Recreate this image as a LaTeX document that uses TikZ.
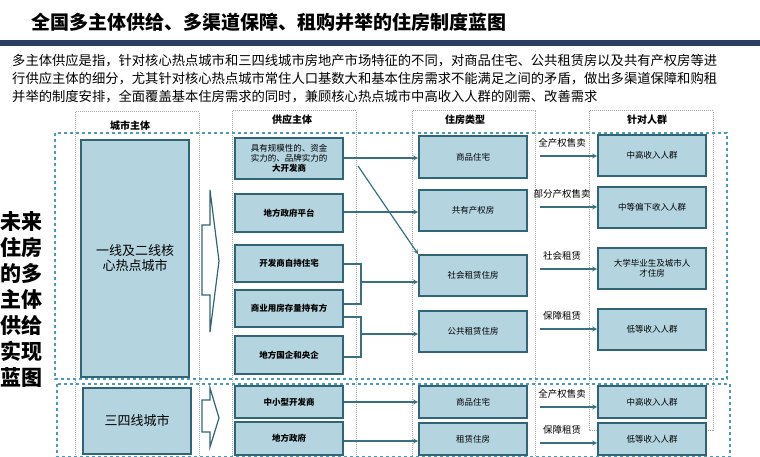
\documentclass[tikz,border=0pt]{standalone}
\usepackage{fontspec}
\setmainfont{Noto Sans CJK SC}
\usetikzlibrary{positioning}
\definecolor{boxfill}{HTML}{B4D5E0}
\definecolor{boxline}{HTML}{2F6577}
\definecolor{arrowc}{HTML}{3A6F80}
\definecolor{dashc}{HTML}{4A9AB8}
\definecolor{barc}{HTML}{2A3F5F}

\begin{document}
\begin{tikzpicture}[
  x=1pt, y=-1pt,
  box/.style={draw=boxline, line width=1.8pt, fill=boxfill, align=center,
    font=\fontsize{8.5}{10}\selectfont, inner sep=1pt},
  column/.style={draw=gray!70, densely dotted, line width=1pt},
  region/.style={draw=dashc, dashed, line width=1.5pt},
  flow/.style={draw=arrowc, line width=1.2pt, ->, >=stealth},
  tag/.style={font=\fontsize{9.5}{11}\selectfont, inner sep=0pt},
  head/.style={font=\bfseries\fontsize{10}{12}\selectfont}
]
  \useasboundingbox (0,0) rectangle (760,457);

  % title and text
  \node (title) [anchor=west, font=\bfseries\fontsize{19}{22}\selectfont] at (28,22)
    {全国多主体供给、多渠道保障、租购并举的住房制度蓝图};
  \fill[barc] (0,40) rectangle (760,46);
  \node (p1) [anchor=west, font=\fontsize{13.3}{15}\selectfont, inner sep=0pt] at (12,61)
    {多主体供应是指，针对核心热点城市和三四线城市房地产市场特征的不同，对商品住宅、公共租赁房以及共有产权房等进};
  \node (p2) [anchor=west, font=\fontsize{13.3}{15}\selectfont, inner sep=0pt] at (12,79)
    {行供应主体的细分，尤其针对核心热点城市常住人口基数大和基本住房需求不能满足之间的矛盾，做出多渠道保障和购租};
  \node (p3) [anchor=west, font=\fontsize{13.3}{15}\selectfont, inner sep=0pt] at (12,97)
    {并举的制度安排，全面覆盖基本住房需求的同时，兼顾核心热点城市中高收入人群的刚需、改善需求};

  \node (side) [font=\bfseries\fontsize{21}{26}\selectfont, align=center] at (22,300)
    {未来\\住房\\的多\\主体\\供给\\实现\\蓝图};

  % columns and regions
  \draw[column] (75,112) rectangle (199,457);
  \draw[column] (232,111) rectangle (356,457);
  \draw[column] (412,111) rectangle (535,457);
  \draw[column] (589,111) rectangle (713,430);
  \node (hc) [head] at (130,126) {城市主体};
  \node (hs) [head] at (292,120) {供应主体};
  \node (hh) [head] at (465,120) {住房类型};
  \node (ht) [head] at (647,120) {针对人群};
  \draw[region] (55,133) rectangle (727,379);
  \draw[region] (57,384) rectangle (730,457);

  % city
  \node (c1) [box, minimum width=108, minimum height=237, font=\fontsize{13}{15}\selectfont] at (135,258.5) {一线及二线核\\心热点城市};
  \node (c2) [box, minimum width=108, minimum height=66, font=\fontsize{13}{15}\selectfont] at (137,421) {三四线城市};

  % chevrons
  \draw[boxline, line width=1.2pt] (210,190) -- (210,225) -- (202,225) -- (202,295) -- (210,295) -- (210,332) -- (219,261) -- cycle;
  \draw[boxline, line width=1.2pt] (210,388) -- (210,400) -- (202,400) -- (202,432) -- (210,432) -- (210,447) -- (219,418) -- cycle;

  % supply
  \node (s1) [box, minimum width=108, minimum height=41] at (289,158.5) {具有规模性的、资金\\实力的、品牌实力的\\\textbf{大开发商}};
  \node (s2) [box, minimum width=108, minimum height=38, font=\bfseries\fontsize{8.5}{10}\selectfont] at (289,213) {地方政府平台};
  \node (s3) [box, minimum width=108, minimum height=37, font=\bfseries\fontsize{8.5}{10}\selectfont] at (289,263.5) {开发商自持住宅};
  \node (s4) [box, minimum width=108, minimum height=37, font=\bfseries\fontsize{8.5}{10}\selectfont] at (289,308.5) {商业用房存量持有方};
  \node (s5) [box, minimum width=108, minimum height=38, font=\bfseries\fontsize{8.5}{10}\selectfont] at (289,355) {地方国企和央企};
  \node (s6) [box, minimum width=108, minimum height=32, font=\bfseries\fontsize{8.5}{10}\selectfont] at (289,402) {中小型开发商};
  \node (s7) [box, minimum width=108, minimum height=33, font=\bfseries\fontsize{8.5}{10}\selectfont] at (289,438.5) {地方政府};

  % housing
  \node (h1) [box, minimum width=108, minimum height=42] at (473,157) {商品住宅};
  \node (h2) [box, minimum width=108, minimum height=41] at (473,210.5) {共有产权房};
  \node (h3) [box, minimum width=108, minimum height=41] at (473,275.5) {社会租赁住房};
  \node (h4) [box, minimum width=108, minimum height=41] at (473,331.5) {公共租赁住房};
  \node (h5) [box, minimum width=108, minimum height=32] at (473,402) {商品住宅};
  \node (h6) [box, minimum width=108, minimum height=32] at (473,439) {租赁住房};

  % target
  \node (t1) [box, minimum width=108, minimum height=41] at (652,155.5) {中高收入人群};
  \node (t2) [box, minimum width=108, minimum height=41] at (652,207.5) {中等偏下收入人群};
  \node (t3) [box, minimum width=108, minimum height=41] at (652,268.5) {大学毕业生及城市人\\才住房};
  \node (t4) [box, minimum width=108, minimum height=41] at (652,329.5) {低等收入人群};
  \node (t5) [box, minimum width=108, minimum height=32] at (652,402) {中高收入人群};
  \node (t6) [box, minimum width=108, minimum height=32] at (652,439) {低等收入人群};

  % supply to housing
  \draw[flow] (s1.east |- 0,158) -- (h1.west |- 0,158);
  \draw[flow] (s2.east |- 0,212) -- (h2.west |- 0,212);
  \draw[flow] (358,166) -- (h3.north west);
  \draw[arrowc, line width=1.2pt] (s3.east |- 0,264) -| (361,304) -- (s4.east |- 0,304);
  \draw[flow] (361,282) -- (h3.west |- 0,282);
  \draw[arrowc, line width=1.2pt] (s4.east |- 0,317) -| (361,357) -- (s5.east |- 0,357);
  \draw[flow] (361,334) -- (h4.west |- 0,334);
  \draw[flow] (s6.east |- 0,402) -- (h5.west |- 0,402);
  \draw[flow] (s7.east |- 0,441) -- (h6.west |- 0,441);

  % housing to target
  \foreach \src/\dst/\yy/\lbl in {h1/t1/156/全产权售卖, h2/t2/207/部分产权售卖, h3/t3/269/社会租赁,
      h4/t4/329/保障租赁, h5/t5/407/全产权售卖, h6/t6/443/保障租赁} {
    \draw[flow] (540,\yy) -- (\dst.west |- 0,\yy);
    \node[tag] at (562,\yy-13) {\lbl};
  }
\end{tikzpicture}
\end{document}
